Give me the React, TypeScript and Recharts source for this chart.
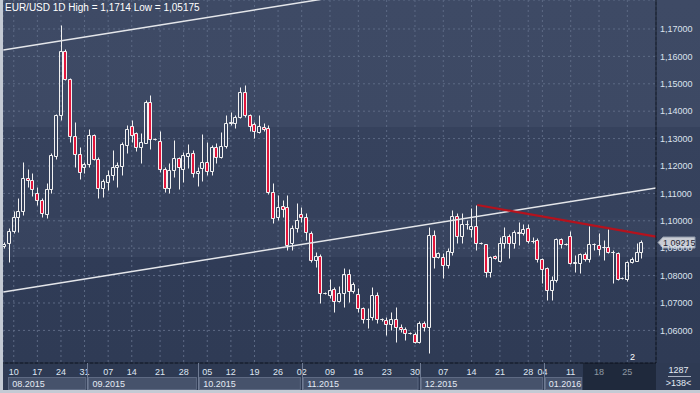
import React from "react";
import { ComposedChart, Bar, XAxis, YAxis, CartesianGrid, ReferenceLine } from "recharts";

// EUR/USD daily candles, Aug 2015 - Jan 2016
const openP = [
  1.0908, 1.0919, 1.0963, 1.1014, 1.1036, 1.1156, 1.1149, 1.1102, 1.1076, 1.1025,
  1.1116, 1.1237, 1.1386, 1.162, 1.1518, 1.131, 1.1244, 1.1196, 1.1207, 1.1313,
  1.1226, 1.112, 1.1142, 1.1167, 1.1196, 1.12, 1.1277, 1.1346, 1.1321, 1.1269,
  1.1284, 1.1434, 1.1299, 1.1291, 1.1189, 1.112, 1.1186, 1.1229, 1.1189, 1.1237,
  1.1248, 1.1175, 1.1193, 1.1215, 1.1182, 1.1269, 1.1233, 1.1273, 1.1357, 1.1357,
  1.1379, 1.147, 1.1386, 1.1353, 1.1324, 1.1342, 1.1339, 1.1105, 1.1014, 1.1054,
  1.105, 1.0919, 1.0974, 1.1025, 1.1014, 1.0956, 1.0857, 1.0872, 1.0737, 1.0729,
  1.0751, 1.0707, 1.0737, 1.0806, 1.0744, 1.0733, 1.0682, 1.0642, 1.0649, 1.0729,
  1.0642, 1.0638, 1.0623, 1.0642, 1.0612, 1.0605, 1.0591, 1.0587, 1.0558, 1.0627,
  1.0612, 1.0948, 1.0868, 1.0868, 1.0839, 1.0886, 1.1018, 1.0945, 1.0988, 1.097,
  1.0981, 1.0919, 1.0915, 1.0813, 1.0872, 1.0853, 1.0919, 1.0945, 1.0919, 1.0959,
  1.0956, 1.0974, 1.0926, 1.093, 1.0861, 1.0828, 1.0747, 1.0784, 1.0934, 1.0915,
  1.0945, 1.0846, 1.0846, 1.0879, 1.0861, 1.0915, 1.0912, 1.0904, 1.0904, 1.0886,
  1.0883, 1.0791, 1.0788, 1.085, 1.0853, 1.0886,
];
const highP = [
  1.0923, 1.0974, 1.1036, 1.1083, 1.1215, 1.1189, 1.1175, 1.1123, 1.1083, 1.1138,
  1.1248, 1.139, 1.1714, 1.1627, 1.152, 1.1361, 1.1269, 1.1215, 1.1335, 1.1317,
  1.1233, 1.1153, 1.1186, 1.1259, 1.1215, 1.1288, 1.135, 1.1368, 1.1324, 1.1321,
  1.1441, 1.1459, 1.1302, 1.1328, 1.1196, 1.1211, 1.1295, 1.1233, 1.1251, 1.128,
  1.1259, 1.1196, 1.1317, 1.1288, 1.1277, 1.1284, 1.1324, 1.1386, 1.1397, 1.1386,
  1.1488, 1.1496, 1.139, 1.1361, 1.1386, 1.1357, 1.135, 1.1138, 1.1094, 1.1076,
  1.1094, 1.0985, 1.1065, 1.105, 1.1029, 1.0963, 1.0886, 1.0879, 1.074, 1.0788,
  1.0758, 1.0762, 1.0828, 1.0824, 1.0777, 1.0755, 1.0685, 1.0682, 1.0758, 1.074,
  1.0645, 1.0649, 1.0667, 1.0685, 1.0623, 1.0612, 1.0594, 1.0594, 1.0634, 1.0634,
  1.0977, 1.0967, 1.0886, 1.0883, 1.0901, 1.104, 1.1029, 1.1029, 1.1003, 1.1047,
  1.1058, 1.0923, 1.0917, 1.0872, 1.0875, 1.0941, 1.0977, 1.0952, 1.0967, 1.0996,
  1.0988, 1.0988, 1.0941, 1.0937, 1.0864, 1.0831, 1.0799, 1.0937, 1.0937, 1.0919,
  1.0963, 1.0875, 1.0883, 1.0886, 1.0981, 1.0919, 1.0956, 1.093, 1.097, 1.0894,
  1.0886, 1.0795, 1.0853, 1.0868, 1.0919, 1.093,
];
const lowP = [
  1.0901, 1.085, 1.0956, 1.0959, 1.1021, 1.1123, 1.1091, 1.1058, 1.1014, 1.101,
  1.1102, 1.1226, 1.1368, 1.1514, 1.1288, 1.1196, 1.1153, 1.1175, 1.1196, 1.1222,
  1.1083, 1.1087, 1.1113, 1.1149, 1.1123, 1.1167, 1.1248, 1.1288, 1.1255, 1.1211,
  1.1284, 1.1262, 1.1295, 1.1178, 1.1105, 1.1102, 1.116, 1.1116, 1.1142, 1.1193,
  1.116, 1.1127, 1.1145, 1.1167, 1.1167, 1.1211, 1.1229, 1.1266, 1.135, 1.1339,
  1.1375, 1.1379, 1.1328, 1.1302, 1.1321, 1.1328, 1.1098, 1.0992, 1.1003, 1.1014,
  1.0894, 1.0894, 1.0959, 1.0996, 1.093, 1.085, 1.0831, 1.07, 1.0733, 1.0718,
  1.0667, 1.0704, 1.0685, 1.0704, 1.0737, 1.0667, 1.0627, 1.0609, 1.0638, 1.0627,
  1.0634, 1.0583, 1.0601, 1.0558, 1.0594, 1.0565, 1.0587, 1.0554, 1.0554, 1.0598,
  1.0518, 1.0828, 1.0864, 1.0791, 1.0828, 1.0875, 1.0919, 1.0919, 1.097, 1.0941,
  1.0894, 1.0915, 1.0795, 1.0795, 1.0861, 1.085, 1.0901, 1.0864, 1.0901, 1.0912,
  1.0948, 1.0919, 1.0919, 1.085, 1.0773, 1.0711, 1.0711, 1.0777, 1.0901, 1.0912,
  1.0842, 1.0813, 1.081, 1.0853, 1.085, 1.0894, 1.0875, 1.0857, 1.0883, 1.0773,
  1.0784, 1.0788, 1.078, 1.0846, 1.0853, 1.0864,
];
const closeP = [
  1.0915, 1.0963, 1.1014, 1.1036, 1.1156, 1.1149, 1.1116, 1.1076, 1.1029, 1.1116,
  1.124, 1.1386, 1.162, 1.1518, 1.131, 1.1244, 1.1178, 1.1207, 1.1313, 1.1226,
  1.112, 1.1145, 1.1167, 1.1196, 1.1204, 1.128, 1.1335, 1.1313, 1.1269, 1.1288,
  1.1434, 1.1299, 1.1297, 1.1189, 1.112, 1.1186, 1.1229, 1.1196, 1.124, 1.1248,
  1.1175, 1.1182, 1.1215, 1.1182, 1.1269, 1.1233, 1.1273, 1.1357, 1.1359, 1.1379,
  1.147, 1.1386, 1.1346, 1.1328, 1.1346, 1.1335, 1.1105, 1.101, 1.105, 1.1043,
  1.0912, 1.0974, 1.1003, 1.1014, 1.0959, 1.0857, 1.0872, 1.0737, 1.0738, 1.0747,
  1.0707, 1.0737, 1.0806, 1.0744, 1.0769, 1.0682, 1.0642, 1.0643, 1.0729, 1.0642,
  1.0641, 1.0623, 1.0642, 1.0612, 1.0605, 1.0591, 1.059, 1.0558, 1.0627, 1.0612,
  1.0948, 1.0868, 1.0883, 1.0839, 1.089, 1.1018, 1.0945, 1.0988, 1.099, 1.0981,
  1.0919, 1.0918, 1.0813, 1.0868, 1.0864, 1.0919, 1.0945, 1.0919, 1.0959, 1.0956,
  1.097, 1.0926, 1.0927, 1.0861, 1.0824, 1.0747, 1.0784, 1.0934, 1.0915, 1.0914,
  1.0846, 1.085, 1.0879, 1.0861, 1.0915, 1.0914, 1.0897, 1.0905, 1.0886, 1.0885,
  1.0788, 1.0792, 1.085, 1.0861, 1.0886, 1.09215,
];

// bottom axis: weekly ticks (candle index) and month boxes
const dayTickIdx = [2, 7, 12, 17, 22, 27, 33, 38, 43, 48, 53, 58, 63, 69, 75, 81, 87, 93, 99, 105, 111, 114, 120, 126, 132];
const dayTickLabels = ["10", "17", "24", "31", "07", "14", "21", "28", "05", "12", "19", "26", "02", "09", "16", "23", "30", "07", "14", "21", "28", "04", "11", "18", "25"];
const monthStarts = [0.6, 17.6, 41.1, 63.1, 88.0, 114.3];
const monthLabels = ["08.2015", "09.2015", "10.2015", "11.2015", "12.2015", "01.2016"];
const monthEnd = 122.6;

const priceTicks = [1.06, 1.07, 1.08, 1.09, 1.1, 1.11, 1.12, 1.13, 1.14, 1.15, 1.16, 1.17];

// drawn trend lines (candle index, price)
const upperChannel = [{ x: -0.21, y: 1.16234 }, { x: 138.07, y: 1.2003 }];
const lowerChannel = [{ x: -0.21, y: 1.07401 }, { x: 138.07, y: 1.11197 }];
const resistance = [{ x: 100.2, y: 1.10577 }, { x: 138.07, y: 1.0942 }];

const X_DOMAIN: [number, number] = [-0.28, 138.07];
const Y_DOMAIN: [number, number] = [1.0481, 1.18058];

const RED = "#e3163c";
const WICK = "#f2f2f2";
const FONT = "'Liberation Sans', Arial, sans-serif";

const candles = openP.map((o, i) => ({
  i,
  open: o,
  high: highP[i],
  low: lowP[i],
  close: closeP[i],
  range: [lowP[i], highP[i]],
}));
const lastClose = closeP[closeP.length - 1];

function Candle(props: any) {
  const { x, y, width, height, payload } = props;
  if (!payload || x == null || y == null) return null;
  const { open, close, high, low } = payload;
  const k = height / (high - low || 1e-9);
  const py = (v: number) => y + (high - v) * k;
  const cx = Math.round(x + width / 2) + 0.5;
  const yO = py(open);
  const yC = py(close);
  const top = Math.round(Math.min(yO, yC)) + 0.5;
  const bot = Math.round(Math.max(yO, yC)) + 0.5;
  const yH = Math.round(y) + 0.5;
  const yL = Math.round(y + height) + 0.5;
  const bear = close < open;
  return (
    <g>
      <line x1={cx} x2={cx} y1={yH} y2={top} stroke={WICK} />
      <line x1={cx} x2={cx} y1={bot} y2={yL} stroke={WICK} />
      <path d={`M${cx - 2},${top}H${cx + 1}V${bot}H${cx - 2}Z`} fill={bear ? RED : "none"} stroke={WICK} />
    </g>
  );
}

function DayTick(props: any) {
  const { x, y, payload } = props;
  const k = dayTickIdx.indexOf(payload.value);
  return (
    <text x={x} y={y + 12} textAnchor="middle" fontSize={9} fill="#dfe6f2" fontFamily={FONT}>
      {k >= 0 ? dayTickLabels[k] : ""}
    </text>
  );
}

function MonthTick(props: any) {
  const { x, y, payload } = props;
  const ppu = (props.width || 653) / (X_DOMAIN[1] - X_DOMAIN[0]);
  const k = monthStarts.indexOf(payload.value);
  if (k < 0) {
    // dimmed tail of the time scale
    const w = (X_DOMAIN[1] - payload.value) * ppu;
    return <rect x={x} y={y - 14} width={w} height={27} fill="rgba(8,12,24,0.38)" />;
  }
  const next = k + 1 < monthStarts.length ? monthStarts[k + 1] : monthEnd;
  const w = (next - payload.value) * ppu;
  return (
    <g>
      {k > 0 && <line x1={Math.round(x) + 0.5} x2={Math.round(x) + 0.5} y1={y - 14} y2={y + 13} stroke="#6f7b93" />}
      <rect x={Math.round(x) + 1.5} y={y + 0.5} width={Math.max(w - 3, 0)} height={12} fill="#46526b" stroke="#5e6a83" />
      <text x={x + 5} y={y + 10} fontSize={9} fill="#e4eaf4" fontFamily={FONT}>
        {monthLabels[k]}
      </text>
    </g>
  );
}

function PriceTag(props: any) {
  const vb = props.viewBox;
  if (!vb) return null;
  const x0 = vb.x + vb.width + 2;
  const yc = Math.round(vb.y) + 0.5;
  return (
    <g>
      <path
        d={`M${x0},${yc}L${x0 + 5},${yc - 5.5}H${x0 + 37}V${yc + 5.5}H${x0 + 5}Z`}
        fill="#c8ccd4"
        stroke="#8f98a8"
      />
      <text x={x0 + 5} y={yc + 3.5} fontSize={9} fill="#1c2332" fontFamily={FONT}>
        {lastClose.toFixed(5).replace(".", ",")}
      </text>
    </g>
  );
}

export default function App() {
  return (
    <div
      style={{
        position: "absolute",
        left: 0,
        top: 0,
        width: 700,
        height: 393,
        background: "#c4cad4",
        overflow: "hidden",
        fontFamily: FONT,
      }}
    >
      <div
        style={{
          position: "absolute",
          left: 3,
          top: 0,
          width: 697,
          height: 390,
          background:
            "linear-gradient(to bottom, #3e4a65 0px, #3d4964 127px, #36425d 127px, #35415c 218px, #38445f 218px, #37435e 257px, #303c57 257px, #2f3b55 363px, #2e3a53 363px, #2e3a53 390px)",
        }}
      >
        <ComposedChart
          width={697}
          height={390}
          data={candles}
          margin={{ top: 0, right: 0, bottom: 0, left: 0 }}
        >
          <CartesianGrid xAxisId="d" yAxisId="p" stroke="#5d6a85" strokeDasharray="2 3" />
          <XAxis
            xAxisId="d"
            dataKey="i"
            type="number"
            domain={X_DOMAIN}
            allowDataOverflow
            ticks={dayTickIdx}
            interval={0}
            height={14}
            tickSize={0}
            tickMargin={0}
            tickLine={false}
            axisLine={{ stroke: "#0b111c" }}
            tick={<DayTick />}
          />
          <XAxis
            xAxisId="m"
            dataKey="i"
            type="number"
            domain={X_DOMAIN}
            allowDataOverflow
            ticks={[...monthStarts, monthEnd]}
            interval={0}
            height={13}
            tickSize={0}
            tickMargin={0}
            tickLine={false}
            axisLine={false}
            tick={<MonthTick />}
          />
          <YAxis
            yAxisId="p"
            orientation="right"
            type="number"
            domain={Y_DOMAIN}
            allowDataOverflow
            ticks={priceTicks}
            interval={0}
            width={44}
            tickSize={2}
            tickMargin={2}
            tickLine={false}
            axisLine={{ stroke: "#0b111c" }}
            tick={{ fill: "#dbe2ee", fontSize: 9, fontFamily: FONT }}
            tickFormatter={(v: number) => v.toFixed(5).replace(".", ",")}
          />
          <Bar
            xAxisId="d"
            yAxisId="p"
            dataKey="range"
            barSize={5}
            shape={<Candle />}
            isAnimationActive={false}
          />
          <ReferenceLine xAxisId="d" yAxisId="p" segment={upperChannel} stroke="#e4e6ea" strokeWidth={1.5} ifOverflow="hidden" />
          <ReferenceLine xAxisId="d" yAxisId="p" segment={lowerChannel} stroke="#e4e6ea" strokeWidth={1.5} ifOverflow="hidden" />
          <ReferenceLine xAxisId="d" yAxisId="p" segment={resistance} stroke="#b5121d" strokeWidth={2.2} ifOverflow="hidden" />
          <ReferenceLine xAxisId="d" yAxisId="p" y={lastClose} stroke="none" ifOverflow="visible" label={<PriceTag />} />
        </ComposedChart>
      </div>

      <div style={{ position: "absolute", left: 5, top: 2, fontSize: 10, lineHeight: "12px", color: "#ffffff", whiteSpace: "nowrap" }}>
        EUR/USD 1D High = 1,1714 Low = 1,05175
      </div>
      <div style={{ position: "absolute", left: 630, top: 352, fontSize: 9, lineHeight: "11px", color: "#ffffff" }}>2</div>
      <div style={{ position: "absolute", left: 657, top: 365, width: 43, textAlign: "center", fontSize: 9, lineHeight: "10px", color: "#e4eaf4" }}>1287</div>
      <div style={{ position: "absolute", left: 668, top: 376, width: 23, height: 1, background: "#a9b1c1" }} />
      <div style={{ position: "absolute", left: 657, top: 378, width: 43, textAlign: "center", fontSize: 9, lineHeight: "10px", color: "#e4eaf4" }}>&gt;138&lt;</div>
    </div>
  );
}
